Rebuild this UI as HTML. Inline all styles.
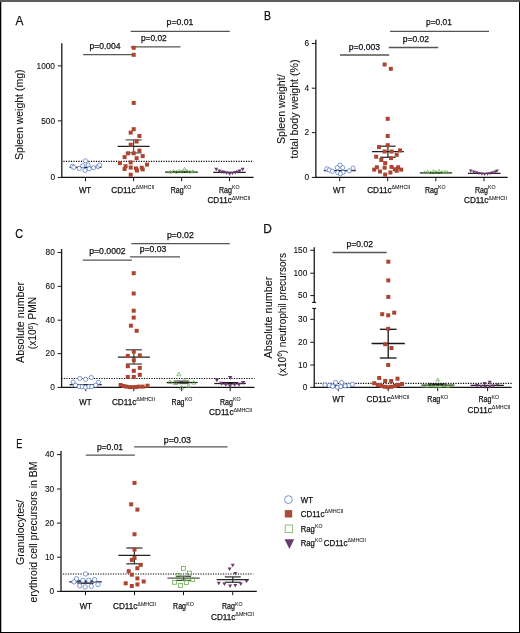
<!DOCTYPE html>
<html><head><meta charset="utf-8"><style>
html,body{margin:0;padding:0;background:#fff;}
body{width:520px;height:633px;overflow:hidden;}
svg{display:block;font-family:"Liberation Sans", sans-serif;will-change:transform;}
text{stroke:#111;stroke-width:0.25px;}
</style></head><body>
<svg width="520" height="633" viewBox="0 0 520 633">
<rect x="0" y="0" width="520" height="633" fill="#fff"/>
<text x="15.6" y="24.6" font-size="13" textLength="7.9" lengthAdjust="spacingAndGlyphs" fill="#111">A</text>
<line x1="61.8" y1="43.2" x2="61.8" y2="178.04999999999998" stroke="#1a1a1a" stroke-width="1.3"/>
<line x1="57.8" y1="65.9" x2="61.8" y2="65.9" stroke="#1a1a1a" stroke-width="1"/>
<text x="55.0" y="68.60000000000001" font-size="8.3" text-anchor="end" fill="#111" style="stroke-width:0.1px">1000</text>
<line x1="57.8" y1="120.85" x2="61.8" y2="120.85" stroke="#1a1a1a" stroke-width="1"/>
<text x="55.0" y="123.55" font-size="8.3" text-anchor="end" fill="#111" style="stroke-width:0.1px">500</text>
<line x1="57.8" y1="177.45" x2="61.8" y2="177.45" stroke="#1a1a1a" stroke-width="1"/>
<text x="55.0" y="180.14999999999998" font-size="8.3" text-anchor="end" fill="#111" style="stroke-width:0.1px">0</text>
<text transform="translate(23.0,114.7) rotate(-90)" x="0" y="0" font-size="10.3" text-anchor="middle" textLength="90.4" lengthAdjust="spacingAndGlyphs" fill="#111" style="stroke-width:0.08px">Spleen weight (mg)</text>
<line x1="61.199999999999996" y1="177.45" x2="253.6" y2="177.45" stroke="#111" stroke-width="1.2"/>
<line x1="85.5" y1="177.45" x2="85.5" y2="181.25" stroke="#1a1a1a" stroke-width="1"/>
<line x1="133.6" y1="177.45" x2="133.6" y2="181.25" stroke="#1a1a1a" stroke-width="1"/>
<line x1="181.6" y1="177.45" x2="181.6" y2="181.25" stroke="#1a1a1a" stroke-width="1"/>
<line x1="229.5" y1="177.45" x2="229.5" y2="181.25" stroke="#1a1a1a" stroke-width="1"/>
<text x="85.05" y="192.7" font-size="8.7" text-anchor="middle" textLength="12.3" lengthAdjust="spacingAndGlyphs" fill="#111">WT</text>
<text x="111.3" y="192.7" font-size="8.7" textLength="24.4" lengthAdjust="spacingAndGlyphs" fill="#111">CD11c</text>
<text x="135.6" y="189.39999999999998" font-size="5.5" textLength="18.8" lengthAdjust="spacingAndGlyphs" fill="#111" style="stroke-width:0.05px">ΔMHCII</text>
<text x="170.7" y="192.7" font-size="8.7" textLength="12.9" lengthAdjust="spacingAndGlyphs" fill="#111">Rag</text>
<text x="183.79999999999998" y="189.39999999999998" font-size="5.7" textLength="7.6" lengthAdjust="spacingAndGlyphs" fill="#111" style="stroke-width:0.05px">KO</text>
<text x="218.9" y="192.7" font-size="8.7" textLength="12.9" lengthAdjust="spacingAndGlyphs" fill="#111">Rag</text>
<text x="232.0" y="189.39999999999998" font-size="5.7" textLength="7.6" lengthAdjust="spacingAndGlyphs" fill="#111" style="stroke-width:0.05px">KO</text>
<text x="207.4" y="203.2" font-size="8.7" textLength="24.4" lengthAdjust="spacingAndGlyphs" fill="#111">CD11c</text>
<text x="231.70000000000002" y="199.89999999999998" font-size="5.5" textLength="18.8" lengthAdjust="spacingAndGlyphs" fill="#111" style="stroke-width:0.05px">ΔMHCII</text>
<line x1="130.8" y1="31.35" x2="229.8" y2="31.35" stroke="#56564f" stroke-width="1.3"/>
<text x="166.6" y="25.0" font-size="8.8" textLength="26.8" lengthAdjust="spacingAndGlyphs" fill="#111">p=0.01</text>
<line x1="130.8" y1="46.8" x2="180.4" y2="46.8" stroke="#56564f" stroke-width="1.3"/>
<text x="140.9" y="41.2" font-size="8.8" textLength="25.8" lengthAdjust="spacingAndGlyphs" fill="#111">p=0.02</text>
<line x1="83.1" y1="54.6" x2="135.0" y2="54.6" stroke="#56564f" stroke-width="1.3"/>
<text x="89.5" y="49.1" font-size="8.8" textLength="31.1" lengthAdjust="spacingAndGlyphs" fill="#111">p=0.004</text>
<line x1="63.4" y1="161.4" x2="253.6" y2="161.4" stroke="#000" stroke-width="1.1" stroke-dasharray="1.2 1.3"/>
<line x1="69.5" y1="167.3" x2="101.5" y2="167.3" stroke="#222" stroke-width="1.25"/>
<circle cx="72.3" cy="166.2" r="2.1" fill="#fff" stroke="#5577c4" stroke-width="0.75"/>
<circle cx="73.8" cy="167.3" r="2.1" fill="#fff" stroke="#5577c4" stroke-width="0.75"/>
<circle cx="79.2" cy="168.5" r="2.1" fill="#fff" stroke="#5577c4" stroke-width="0.75"/>
<circle cx="82.7" cy="165.8" r="2.1" fill="#fff" stroke="#5577c4" stroke-width="0.75"/>
<circle cx="88.1" cy="165" r="2.1" fill="#fff" stroke="#5577c4" stroke-width="0.75"/>
<circle cx="85" cy="170.4" r="2.1" fill="#fff" stroke="#5577c4" stroke-width="0.75"/>
<circle cx="89.2" cy="168.8" r="2.1" fill="#fff" stroke="#5577c4" stroke-width="0.75"/>
<circle cx="93.5" cy="167.7" r="2.1" fill="#fff" stroke="#5577c4" stroke-width="0.75"/>
<circle cx="98.1" cy="166.5" r="2.1" fill="#fff" stroke="#5577c4" stroke-width="0.75"/>
<circle cx="99.6" cy="165" r="2.1" fill="#fff" stroke="#5577c4" stroke-width="0.75"/>
<circle cx="85.4" cy="160.8" r="2.1" fill="#fff" stroke="#5577c4" stroke-width="0.75"/>
<line x1="133.6" y1="139.9" x2="133.6" y2="152.9" stroke="#555" stroke-width="1.25"/>
<line x1="125.6" y1="139.9" x2="141.6" y2="139.9" stroke="#555" stroke-width="1.25"/>
<line x1="125.6" y1="152.9" x2="141.6" y2="152.9" stroke="#555" stroke-width="1.25"/>
<line x1="117.6" y1="146.4" x2="149.6" y2="146.4" stroke="#222" stroke-width="1.25"/>
<rect x="131.70" y="45.80" width="4.0" height="4.0" fill="#ac4430"/>
<rect x="131.70" y="52.80" width="4.0" height="4.0" fill="#ac4430"/>
<rect x="131.70" y="100.90" width="4.0" height="4.0" fill="#ac4430"/>
<rect x="131.70" y="127.20" width="4.0" height="4.0" fill="#ac4430"/>
<rect x="128.70" y="130.60" width="4.0" height="4.0" fill="#ac4430"/>
<rect x="137.40" y="134.00" width="4.0" height="4.0" fill="#ac4430"/>
<rect x="134.60" y="139.50" width="4.0" height="4.0" fill="#ac4430"/>
<rect x="128.70" y="142.70" width="4.0" height="4.0" fill="#ac4430"/>
<rect x="137.40" y="148.60" width="4.0" height="4.0" fill="#ac4430"/>
<rect x="126.10" y="151.30" width="4.0" height="4.0" fill="#ac4430"/>
<rect x="131.70" y="151.30" width="4.0" height="4.0" fill="#ac4430"/>
<rect x="122.60" y="155.10" width="4.0" height="4.0" fill="#ac4430"/>
<rect x="140.70" y="154.10" width="4.0" height="4.0" fill="#ac4430"/>
<rect x="134.60" y="156.20" width="4.0" height="4.0" fill="#ac4430"/>
<rect x="128.70" y="160.40" width="4.0" height="4.0" fill="#ac4430"/>
<rect x="117.90" y="161.10" width="4.0" height="4.0" fill="#ac4430"/>
<rect x="145.00" y="162.60" width="4.0" height="4.0" fill="#ac4430"/>
<rect x="123.60" y="164.20" width="4.0" height="4.0" fill="#ac4430"/>
<rect x="128.70" y="165.50" width="4.0" height="4.0" fill="#ac4430"/>
<rect x="122.60" y="167.00" width="4.0" height="4.0" fill="#ac4430"/>
<rect x="134.00" y="166.40" width="4.0" height="4.0" fill="#ac4430"/>
<rect x="139.70" y="165.70" width="4.0" height="4.0" fill="#ac4430"/>
<rect x="135.00" y="168.50" width="4.0" height="4.0" fill="#ac4430"/>
<rect x="140.70" y="167.40" width="4.0" height="4.0" fill="#ac4430"/>
<rect x="128.70" y="172.70" width="4.0" height="4.0" fill="#ac4430"/>
<line x1="165.0" y1="172.1" x2="197.8" y2="172.1" stroke="#222" stroke-width="1.25"/>
<rect x="173" y="171.3" width="17" height="1.6" fill="#111"/>
<path d="M170.50 170.22L172.15 173.09L168.85 173.09Z" fill="none" stroke="#5fa64a" stroke-width="0.7"/>
<path d="M173.50 169.52L175.15 172.39L171.85 172.39Z" fill="none" stroke="#5fa64a" stroke-width="0.7"/>
<path d="M176.50 170.22L178.15 173.09L174.85 173.09Z" fill="none" stroke="#5fa64a" stroke-width="0.7"/>
<path d="M179.50 169.22L181.15 172.09L177.85 172.09Z" fill="none" stroke="#5fa64a" stroke-width="0.7"/>
<path d="M182.00 169.82L183.65 172.69L180.35 172.69Z" fill="none" stroke="#5fa64a" stroke-width="0.7"/>
<path d="M184.60 167.22L186.25 170.09L182.95 170.09Z" fill="none" stroke="#5fa64a" stroke-width="0.7"/>
<path d="M187.00 169.42L188.65 172.29L185.35 172.29Z" fill="none" stroke="#5fa64a" stroke-width="0.7"/>
<path d="M190.00 170.02L191.65 172.89L188.35 172.89Z" fill="none" stroke="#5fa64a" stroke-width="0.7"/>
<path d="M193.00 169.72L194.65 172.59L191.35 172.59Z" fill="none" stroke="#5fa64a" stroke-width="0.7"/>
<line x1="213.2" y1="172.4" x2="245.7" y2="172.4" stroke="#222" stroke-width="1.25"/>
<path d="M216.20 171.20L218.15 167.81L214.25 167.81Z" fill="#6a3a6c"/>
<path d="M219.30 172.90L221.25 169.51L217.35 169.51Z" fill="#6a3a6c"/>
<path d="M221.90 173.80L223.85 170.41L219.95 170.41Z" fill="#6a3a6c"/>
<path d="M224.00 174.20L225.95 170.81L222.05 170.81Z" fill="#6a3a6c"/>
<path d="M226.60 174.90L228.55 171.51L224.65 171.51Z" fill="#6a3a6c"/>
<path d="M229.70 175.80L231.65 172.41L227.75 172.41Z" fill="#6a3a6c"/>
<path d="M232.50 175.10L234.45 171.71L230.55 171.71Z" fill="#6a3a6c"/>
<path d="M235.30 174.40L237.25 171.01L233.35 171.01Z" fill="#6a3a6c"/>
<path d="M237.40 173.80L239.35 170.41L235.45 170.41Z" fill="#6a3a6c"/>
<path d="M239.60 172.90L241.55 169.51L237.65 169.51Z" fill="#6a3a6c"/>
<path d="M242.60 171.20L244.55 167.81L240.65 167.81Z" fill="#6a3a6c"/>
<text x="264.0" y="20.2" font-size="13" textLength="7.0" lengthAdjust="spacingAndGlyphs" fill="#111">B</text>
<line x1="315.85" y1="39.8" x2="315.85" y2="178.0" stroke="#1a1a1a" stroke-width="1.3"/>
<line x1="311.85" y1="43.5" x2="315.85" y2="43.5" stroke="#1a1a1a" stroke-width="1"/>
<text x="309.05" y="46.2" font-size="8.3" text-anchor="end" fill="#111" style="stroke-width:0.1px">6</text>
<line x1="311.85" y1="88.2" x2="315.85" y2="88.2" stroke="#1a1a1a" stroke-width="1"/>
<text x="309.05" y="90.9" font-size="8.3" text-anchor="end" fill="#111" style="stroke-width:0.1px">4</text>
<line x1="311.85" y1="132.65" x2="315.85" y2="132.65" stroke="#1a1a1a" stroke-width="1"/>
<text x="309.05" y="135.35" font-size="8.3" text-anchor="end" fill="#111" style="stroke-width:0.1px">2</text>
<line x1="311.85" y1="177.4" x2="315.85" y2="177.4" stroke="#1a1a1a" stroke-width="1"/>
<text x="309.05" y="180.1" font-size="8.3" text-anchor="end" fill="#111" style="stroke-width:0.1px">0</text>
<text transform="translate(285.1,109.2) rotate(-90)" x="0" y="0" font-size="10.3" text-anchor="middle" textLength="69.7" lengthAdjust="spacingAndGlyphs" fill="#111" style="stroke-width:0.08px">Spleen weight/</text>
<text transform="translate(297.6,109.0) rotate(-90)" x="0" y="0" font-size="10.3" text-anchor="middle" textLength="98.9" lengthAdjust="spacingAndGlyphs" fill="#111" style="stroke-width:0.08px">total body weight (%)</text>
<line x1="315.29999999999995" y1="177.4" x2="507.7" y2="177.4" stroke="#111" stroke-width="1.2"/>
<line x1="339.7" y1="177.4" x2="339.7" y2="181.20000000000002" stroke="#1a1a1a" stroke-width="1"/>
<line x1="387.7" y1="177.4" x2="387.7" y2="181.20000000000002" stroke="#1a1a1a" stroke-width="1"/>
<line x1="435.8" y1="177.4" x2="435.8" y2="181.20000000000002" stroke="#1a1a1a" stroke-width="1"/>
<line x1="484.0" y1="177.4" x2="484.0" y2="181.20000000000002" stroke="#1a1a1a" stroke-width="1"/>
<text x="339.25" y="192.55" font-size="8.7" text-anchor="middle" textLength="12.3" lengthAdjust="spacingAndGlyphs" fill="#111">WT</text>
<text x="367.2" y="192.55" font-size="8.7" textLength="24.4" lengthAdjust="spacingAndGlyphs" fill="#111">CD11c</text>
<text x="391.5" y="189.25" font-size="5.5" textLength="18.8" lengthAdjust="spacingAndGlyphs" fill="#111" style="stroke-width:0.05px">ΔMHCII</text>
<text x="424.9" y="192.55" font-size="8.7" textLength="12.9" lengthAdjust="spacingAndGlyphs" fill="#111">Rag</text>
<text x="438.0" y="189.25" font-size="5.7" textLength="7.6" lengthAdjust="spacingAndGlyphs" fill="#111" style="stroke-width:0.05px">KO</text>
<text x="474.9" y="192.55" font-size="8.7" textLength="12.9" lengthAdjust="spacingAndGlyphs" fill="#111">Rag</text>
<text x="488.0" y="189.25" font-size="5.7" textLength="7.6" lengthAdjust="spacingAndGlyphs" fill="#111" style="stroke-width:0.05px">KO</text>
<text x="464.0" y="202.9" font-size="8.7" textLength="24.4" lengthAdjust="spacingAndGlyphs" fill="#111">CD11c</text>
<text x="488.3" y="199.6" font-size="5.5" textLength="18.8" lengthAdjust="spacingAndGlyphs" fill="#111" style="stroke-width:0.05px">ΔMHCII</text>
<line x1="390.0" y1="31.35" x2="489.0" y2="31.35" stroke="#56564f" stroke-width="1.3"/>
<text x="426.1" y="24.8" font-size="8.8" textLength="25.8" lengthAdjust="spacingAndGlyphs" fill="#111">p=0.01</text>
<line x1="388.8" y1="47.5" x2="438.2" y2="47.5" stroke="#56564f" stroke-width="1.3"/>
<text x="402.8" y="42.4" font-size="8.8" textLength="26.3" lengthAdjust="spacingAndGlyphs" fill="#111">p=0.02</text>
<line x1="340.0" y1="55.0" x2="389.2" y2="55.0" stroke="#56564f" stroke-width="1.3"/>
<text x="348.8" y="49.7" font-size="8.8" textLength="31.2" lengthAdjust="spacingAndGlyphs" fill="#111">p=0.003</text>
<line x1="323.8" y1="170.7" x2="355.8" y2="170.7" stroke="#222" stroke-width="1.25"/>
<circle cx="326.9" cy="168.8" r="2.1" fill="#fff" stroke="#5577c4" stroke-width="0.75"/>
<circle cx="329.2" cy="170" r="2.1" fill="#fff" stroke="#5577c4" stroke-width="0.75"/>
<circle cx="332.3" cy="171.2" r="2.1" fill="#fff" stroke="#5577c4" stroke-width="0.75"/>
<circle cx="337.3" cy="167.7" r="2.1" fill="#fff" stroke="#5577c4" stroke-width="0.75"/>
<circle cx="342.7" cy="167.7" r="2.1" fill="#fff" stroke="#5577c4" stroke-width="0.75"/>
<circle cx="337.7" cy="172.7" r="2.1" fill="#fff" stroke="#5577c4" stroke-width="0.75"/>
<circle cx="343.1" cy="172.3" r="2.1" fill="#fff" stroke="#5577c4" stroke-width="0.75"/>
<circle cx="340.4" cy="173.8" r="2.1" fill="#fff" stroke="#5577c4" stroke-width="0.75"/>
<circle cx="349.2" cy="170.8" r="2.1" fill="#fff" stroke="#5577c4" stroke-width="0.75"/>
<circle cx="353.1" cy="168.1" r="2.1" fill="#fff" stroke="#5577c4" stroke-width="0.75"/>
<circle cx="340" cy="165" r="2.1" fill="#fff" stroke="#5577c4" stroke-width="0.75"/>
<line x1="387.9" y1="146.2" x2="387.9" y2="157.3" stroke="#2a2a2a" stroke-width="1.25"/>
<line x1="380.2" y1="146.2" x2="395.59999999999997" y2="146.2" stroke="#2a2a2a" stroke-width="1.25"/>
<line x1="380.2" y1="157.3" x2="395.59999999999997" y2="157.3" stroke="#2a2a2a" stroke-width="1.25"/>
<line x1="371.9" y1="151.5" x2="403.9" y2="151.5" stroke="#222" stroke-width="1.25"/>
<line x1="419.8" y1="172.8" x2="452.2" y2="172.8" stroke="#222" stroke-width="1.25"/>
<rect x="430" y="172" width="12" height="1.5" fill="#111"/>
<rect x="382.60" y="62.50" width="4.0" height="4.0" fill="#ac4430"/>
<rect x="388.80" y="66.80" width="4.0" height="4.0" fill="#ac4430"/>
<rect x="385.70" y="116.80" width="4.0" height="4.0" fill="#ac4430"/>
<rect x="385.70" y="134.00" width="4.0" height="4.0" fill="#ac4430"/>
<rect x="385.70" y="143.20" width="4.0" height="4.0" fill="#ac4430"/>
<rect x="377.00" y="145.10" width="4.0" height="4.0" fill="#ac4430"/>
<rect x="382.60" y="149.50" width="4.0" height="4.0" fill="#ac4430"/>
<rect x="389.50" y="149.50" width="4.0" height="4.0" fill="#ac4430"/>
<rect x="398.00" y="148.40" width="4.0" height="4.0" fill="#ac4430"/>
<rect x="394.70" y="152.80" width="4.0" height="4.0" fill="#ac4430"/>
<rect x="374.20" y="154.70" width="4.0" height="4.0" fill="#ac4430"/>
<rect x="389.00" y="156.10" width="4.0" height="4.0" fill="#ac4430"/>
<rect x="379.30" y="158.00" width="4.0" height="4.0" fill="#ac4430"/>
<rect x="383.20" y="161.10" width="4.0" height="4.0" fill="#ac4430"/>
<rect x="374.90" y="165.30" width="4.0" height="4.0" fill="#ac4430"/>
<rect x="382.60" y="165.70" width="4.0" height="4.0" fill="#ac4430"/>
<rect x="389.50" y="164.90" width="4.0" height="4.0" fill="#ac4430"/>
<rect x="396.10" y="165.30" width="4.0" height="4.0" fill="#ac4430"/>
<rect x="372.20" y="167.60" width="4.0" height="4.0" fill="#ac4430"/>
<rect x="378.00" y="169.50" width="4.0" height="4.0" fill="#ac4430"/>
<rect x="392.80" y="167.20" width="4.0" height="4.0" fill="#ac4430"/>
<rect x="399.20" y="167.60" width="4.0" height="4.0" fill="#ac4430"/>
<rect x="388.40" y="170.50" width="4.0" height="4.0" fill="#ac4430"/>
<rect x="394.70" y="168.80" width="4.0" height="4.0" fill="#ac4430"/>
<rect x="383.20" y="172.60" width="4.0" height="4.0" fill="#ac4430"/>
<line x1="468.0" y1="173.4" x2="500.5" y2="173.4" stroke="#222" stroke-width="1.25"/>
<path d="M424.50 170.77L426.10 173.56L422.90 173.56Z" fill="none" stroke="#5fa64a" stroke-width="0.7"/>
<path d="M427.50 170.07L429.10 172.86L425.90 172.86Z" fill="none" stroke="#5fa64a" stroke-width="0.7"/>
<path d="M430.50 170.87L432.10 173.66L428.90 173.66Z" fill="none" stroke="#5fa64a" stroke-width="0.7"/>
<path d="M433.50 169.57L435.10 172.36L431.90 172.36Z" fill="none" stroke="#5fa64a" stroke-width="0.7"/>
<path d="M436.00 170.47L437.60 173.26L434.40 173.26Z" fill="none" stroke="#5fa64a" stroke-width="0.7"/>
<path d="M439.00 169.47L440.60 172.26L437.40 172.26Z" fill="none" stroke="#5fa64a" stroke-width="0.7"/>
<path d="M442.00 170.67L443.60 173.46L440.40 173.46Z" fill="none" stroke="#5fa64a" stroke-width="0.7"/>
<path d="M445.00 170.07L446.60 172.86L443.40 172.86Z" fill="none" stroke="#5fa64a" stroke-width="0.7"/>
<path d="M447.50 170.87L449.10 173.66L445.90 173.66Z" fill="none" stroke="#5fa64a" stroke-width="0.7"/>
<path d="M470.70 172.74L472.50 169.61L468.90 169.61Z" fill="#6a3a6c"/>
<path d="M473.70 173.64L475.50 170.51L471.90 170.51Z" fill="#6a3a6c"/>
<path d="M476.30 174.44L478.10 171.31L474.50 171.31Z" fill="#6a3a6c"/>
<path d="M478.90 175.14L480.70 172.01L477.10 172.01Z" fill="#6a3a6c"/>
<path d="M481.90 175.74L483.70 172.61L480.10 172.61Z" fill="#6a3a6c"/>
<path d="M484.50 176.04L486.30 172.91L482.70 172.91Z" fill="#6a3a6c"/>
<path d="M487.50 175.74L489.30 172.61L485.70 172.61Z" fill="#6a3a6c"/>
<path d="M490.10 175.14L491.90 172.01L488.30 172.01Z" fill="#6a3a6c"/>
<path d="M492.70 174.44L494.50 171.31L490.90 171.31Z" fill="#6a3a6c"/>
<path d="M495.30 173.64L497.10 170.51L493.50 170.51Z" fill="#6a3a6c"/>
<path d="M497.00 172.74L498.80 169.61L495.20 169.61Z" fill="#6a3a6c"/>
<text x="15.2" y="238.2" font-size="13" textLength="7.8" lengthAdjust="spacingAndGlyphs" fill="#111">C</text>
<line x1="61.6" y1="248.9" x2="61.6" y2="388.05" stroke="#1a1a1a" stroke-width="1.3"/>
<line x1="57.6" y1="252.5" x2="61.6" y2="252.5" stroke="#1a1a1a" stroke-width="1"/>
<text x="54.800000000000004" y="255.2" font-size="8.3" text-anchor="end" fill="#111" style="stroke-width:0.1px">80</text>
<line x1="57.6" y1="286.35" x2="61.6" y2="286.35" stroke="#1a1a1a" stroke-width="1"/>
<text x="54.800000000000004" y="289.05" font-size="8.3" text-anchor="end" fill="#111" style="stroke-width:0.1px">60</text>
<line x1="57.6" y1="320.2" x2="61.6" y2="320.2" stroke="#1a1a1a" stroke-width="1"/>
<text x="54.800000000000004" y="322.9" font-size="8.3" text-anchor="end" fill="#111" style="stroke-width:0.1px">40</text>
<line x1="57.6" y1="353.65" x2="61.6" y2="353.65" stroke="#1a1a1a" stroke-width="1"/>
<text x="54.800000000000004" y="356.34999999999997" font-size="8.3" text-anchor="end" fill="#111" style="stroke-width:0.1px">20</text>
<line x1="57.6" y1="387.45" x2="61.6" y2="387.45" stroke="#1a1a1a" stroke-width="1"/>
<text x="54.800000000000004" y="390.15" font-size="8.3" text-anchor="end" fill="#111" style="stroke-width:0.1px">0</text>
<text transform="translate(23.5,322.4) rotate(-90)" x="0" y="0" font-size="10.3" text-anchor="middle" textLength="81" lengthAdjust="spacingAndGlyphs" fill="#111" style="stroke-width:0.08px">Absolute number</text>
<text transform="translate(36.1,323.1) rotate(-90)" x="0" y="0" font-size="10.3" text-anchor="middle" textLength="52.2" lengthAdjust="spacingAndGlyphs" fill="#111" style="stroke-width:0.08px">(x10<tspan font-size="6.5" dy="-3.5">6</tspan><tspan dy="3.5">) PMN</tspan></text>
<line x1="61.0" y1="387.45" x2="254.5" y2="387.45" stroke="#111" stroke-width="1.2"/>
<line x1="85.8" y1="387.45" x2="85.8" y2="391.25" stroke="#1a1a1a" stroke-width="1"/>
<line x1="133.8" y1="387.45" x2="133.8" y2="391.25" stroke="#1a1a1a" stroke-width="1"/>
<line x1="181.6" y1="387.45" x2="181.6" y2="391.25" stroke="#1a1a1a" stroke-width="1"/>
<line x1="230.2" y1="387.45" x2="230.2" y2="391.25" stroke="#1a1a1a" stroke-width="1"/>
<text x="85.45" y="404.5" font-size="8.7" text-anchor="middle" textLength="12.3" lengthAdjust="spacingAndGlyphs" fill="#111">WT</text>
<text x="111.9" y="404.5" font-size="8.7" textLength="24.4" lengthAdjust="spacingAndGlyphs" fill="#111">CD11c</text>
<text x="136.20000000000002" y="401.2" font-size="5.5" textLength="18.8" lengthAdjust="spacingAndGlyphs" fill="#111" style="stroke-width:0.05px">ΔMHCII</text>
<text x="171.6" y="404.5" font-size="8.7" textLength="12.9" lengthAdjust="spacingAndGlyphs" fill="#111">Rag</text>
<text x="184.7" y="401.2" font-size="5.7" textLength="7.6" lengthAdjust="spacingAndGlyphs" fill="#111" style="stroke-width:0.05px">KO</text>
<text x="220.0" y="404.5" font-size="8.7" textLength="12.9" lengthAdjust="spacingAndGlyphs" fill="#111">Rag</text>
<text x="233.1" y="401.2" font-size="5.7" textLength="7.6" lengthAdjust="spacingAndGlyphs" fill="#111" style="stroke-width:0.05px">KO</text>
<text x="209.1" y="414.9" font-size="8.7" textLength="24.4" lengthAdjust="spacingAndGlyphs" fill="#111">CD11c</text>
<text x="233.4" y="411.59999999999997" font-size="5.5" textLength="18.8" lengthAdjust="spacingAndGlyphs" fill="#111" style="stroke-width:0.05px">ΔMHCII</text>
<line x1="131.3" y1="243.6" x2="229.7" y2="243.6" stroke="#56564f" stroke-width="1.3"/>
<text x="166.9" y="237.6" font-size="8.8" textLength="26.9" lengthAdjust="spacingAndGlyphs" fill="#111">p=0.02</text>
<line x1="130.1" y1="256.8" x2="180.0" y2="256.8" stroke="#56564f" stroke-width="1.3"/>
<text x="139.8" y="252.4" font-size="8.8" textLength="26.5" lengthAdjust="spacingAndGlyphs" fill="#111">p=0.03</text>
<line x1="82.8" y1="260.1" x2="132.0" y2="260.1" stroke="#56564f" stroke-width="1.3"/>
<text x="89.2" y="254.2" font-size="8.8" textLength="36.5" lengthAdjust="spacingAndGlyphs" fill="#111">p=0.0002</text>
<line x1="61.4" y1="378.5" x2="254.5" y2="378.5" stroke="#000" stroke-width="1.1" stroke-dasharray="1.2 1.3"/>
<line x1="69.7" y1="384.5" x2="101.7" y2="384.5" stroke="#222" stroke-width="1.25"/>
<circle cx="79.8" cy="378.5" r="2.1" fill="#fff" stroke="#5577c4" stroke-width="0.75"/>
<circle cx="85.6" cy="379.4" r="2.1" fill="#fff" stroke="#5577c4" stroke-width="0.75"/>
<circle cx="91.3" cy="377.5" r="2.1" fill="#fff" stroke="#5577c4" stroke-width="0.75"/>
<circle cx="73.1" cy="382.1" r="2.1" fill="#fff" stroke="#5577c4" stroke-width="0.75"/>
<circle cx="98.5" cy="382.3" r="2.1" fill="#fff" stroke="#5577c4" stroke-width="0.75"/>
<circle cx="75.5" cy="385.2" r="2.1" fill="#fff" stroke="#5577c4" stroke-width="0.75"/>
<circle cx="79.3" cy="386.6" r="2.1" fill="#fff" stroke="#5577c4" stroke-width="0.75"/>
<circle cx="82.2" cy="386.6" r="2.1" fill="#fff" stroke="#5577c4" stroke-width="0.75"/>
<circle cx="85.6" cy="387.3" r="2.1" fill="#fff" stroke="#5577c4" stroke-width="0.75"/>
<circle cx="88.9" cy="386.6" r="2.1" fill="#fff" stroke="#5577c4" stroke-width="0.75"/>
<circle cx="91.8" cy="386.6" r="2.1" fill="#fff" stroke="#5577c4" stroke-width="0.75"/>
<circle cx="95.7" cy="385.2" r="2.1" fill="#fff" stroke="#5577c4" stroke-width="0.75"/>
<line x1="133.9" y1="349.8" x2="133.9" y2="364.0" stroke="#444" stroke-width="1.25"/>
<line x1="125.9" y1="349.8" x2="141.9" y2="349.8" stroke="#444" stroke-width="1.25"/>
<line x1="125.9" y1="364.0" x2="141.9" y2="364.0" stroke="#444" stroke-width="1.25"/>
<line x1="117.9" y1="357.1" x2="149.9" y2="357.1" stroke="#222" stroke-width="1.25"/>
<rect x="131.70" y="271.20" width="4.0" height="4.0" fill="#ac4430"/>
<rect x="131.70" y="291.50" width="4.0" height="4.0" fill="#ac4430"/>
<rect x="131.70" y="308.70" width="4.0" height="4.0" fill="#ac4430"/>
<rect x="131.70" y="315.60" width="4.0" height="4.0" fill="#ac4430"/>
<rect x="128.90" y="323.70" width="4.0" height="4.0" fill="#ac4430"/>
<rect x="134.70" y="328.80" width="4.0" height="4.0" fill="#ac4430"/>
<rect x="131.80" y="349.70" width="4.0" height="4.0" fill="#ac4430"/>
<rect x="125.80" y="353.90" width="4.0" height="4.0" fill="#ac4430"/>
<rect x="137.80" y="353.40" width="4.0" height="4.0" fill="#ac4430"/>
<rect x="131.80" y="358.20" width="4.0" height="4.0" fill="#ac4430"/>
<rect x="125.80" y="364.20" width="4.0" height="4.0" fill="#ac4430"/>
<rect x="137.80" y="365.90" width="4.0" height="4.0" fill="#ac4430"/>
<rect x="131.80" y="368.80" width="4.0" height="4.0" fill="#ac4430"/>
<rect x="137.80" y="372.80" width="4.0" height="4.0" fill="#ac4430"/>
<rect x="125.80" y="375.00" width="4.0" height="4.0" fill="#ac4430"/>
<rect x="131.80" y="375.00" width="4.0" height="4.0" fill="#ac4430"/>
<rect x="118.60" y="383.00" width="4.0" height="4.0" fill="#ac4430"/>
<rect x="121.50" y="384.00" width="4.0" height="4.0" fill="#ac4430"/>
<rect x="124.30" y="384.60" width="4.0" height="4.0" fill="#ac4430"/>
<rect x="127.70" y="385.10" width="4.0" height="4.0" fill="#ac4430"/>
<rect x="131.10" y="385.10" width="4.0" height="4.0" fill="#ac4430"/>
<rect x="134.00" y="385.10" width="4.0" height="4.0" fill="#ac4430"/>
<rect x="136.80" y="384.60" width="4.0" height="4.0" fill="#ac4430"/>
<rect x="140.70" y="384.60" width="4.0" height="4.0" fill="#ac4430"/>
<rect x="145.50" y="383.70" width="4.0" height="4.0" fill="#ac4430"/>
<rect x="173.7" y="380.2" width="15.5" height="4" fill="#8a8a8a"/>
<rect x="180" y="381.6" width="7.5" height="1.8" fill="#111"/>
<line x1="166.6" y1="382.5" x2="197.6" y2="382.5" stroke="#222" stroke-width="1.25"/>
<path d="M178.80 372.13L180.90 375.79L176.70 375.79Z" fill="none" stroke="#5fa64a" stroke-width="0.7"/>
<path d="M170.00 379.83L172.10 383.49L167.90 383.49Z" fill="none" stroke="#5fa64a" stroke-width="0.7"/>
<path d="M175.40 380.83L177.50 384.49L173.30 384.49Z" fill="none" stroke="#5fa64a" stroke-width="0.7"/>
<path d="M185.00 377.93L187.10 381.59L182.90 381.59Z" fill="none" stroke="#5fa64a" stroke-width="0.7"/>
<path d="M193.70 380.43L195.80 384.09L191.60 384.09Z" fill="none" stroke="#5fa64a" stroke-width="0.7"/>
<path d="M181.50 385.63L183.60 389.29L179.40 389.29Z" fill="none" stroke="#5fa64a" stroke-width="0.7"/>
<path d="M188.50 383.73L190.60 387.39L186.40 387.39Z" fill="none" stroke="#5fa64a" stroke-width="0.7"/>
<rect x="221.5" y="382" width="16.5" height="2.3" fill="#111"/>
<line x1="214.2" y1="383.5" x2="245.8" y2="383.5" stroke="#222" stroke-width="1.25"/>
<path d="M216.90 382.13L219.15 378.21L214.65 378.21Z" fill="#6a3a6c"/>
<path d="M221.40 385.63L223.65 381.71L219.15 381.71Z" fill="#6a3a6c"/>
<path d="M225.80 386.73L228.05 382.81L223.55 382.81Z" fill="#6a3a6c"/>
<path d="M230.00 388.23L232.25 384.31L227.75 384.31Z" fill="#6a3a6c"/>
<path d="M230.20 379.83L232.45 375.91L227.95 375.91Z" fill="#6a3a6c"/>
<path d="M234.60 386.73L236.85 382.81L232.35 382.81Z" fill="#6a3a6c"/>
<path d="M239.10 386.73L241.35 382.81L236.85 382.81Z" fill="#6a3a6c"/>
<path d="M243.20 384.83L245.45 380.91L240.95 380.91Z" fill="#6a3a6c"/>
<text x="263.2" y="232.6" font-size="13" textLength="8.6" lengthAdjust="spacingAndGlyphs" fill="#111">D</text>
<line x1="314.25" y1="247.3" x2="314.25" y2="302.6" stroke="#1a1a1a" stroke-width="1.3"/>
<line x1="314.25" y1="308.2" x2="314.25" y2="387.9" stroke="#1a1a1a" stroke-width="1.3"/>
<line x1="312.1" y1="302.4" x2="316.1" y2="302.4" stroke="#1a1a1a" stroke-width="1.1"/>
<line x1="312.3" y1="308.4" x2="316.1" y2="308.4" stroke="#1a1a1a" stroke-width="1.1"/>
<line x1="310.25" y1="250.3" x2="314.25" y2="250.3" stroke="#1a1a1a" stroke-width="1"/>
<text x="307.35" y="253.0" font-size="8.3" text-anchor="end" fill="#111" style="stroke-width:0.1px">150</text>
<line x1="310.25" y1="273.2" x2="314.25" y2="273.2" stroke="#1a1a1a" stroke-width="1"/>
<text x="307.35" y="275.9" font-size="8.3" text-anchor="end" fill="#111" style="stroke-width:0.1px">100</text>
<line x1="310.25" y1="295.6" x2="314.25" y2="295.6" stroke="#1a1a1a" stroke-width="1"/>
<text x="307.35" y="298.3" font-size="8.3" text-anchor="end" fill="#111" style="stroke-width:0.1px">50</text>
<line x1="310.25" y1="319.3" x2="314.25" y2="319.3" stroke="#1a1a1a" stroke-width="1"/>
<text x="307.35" y="322.0" font-size="8.3" text-anchor="end" fill="#111" style="stroke-width:0.1px">30</text>
<line x1="310.25" y1="342.3" x2="314.25" y2="342.3" stroke="#1a1a1a" stroke-width="1"/>
<text x="307.35" y="345.0" font-size="8.3" text-anchor="end" fill="#111" style="stroke-width:0.1px">20</text>
<line x1="310.25" y1="365.0" x2="314.25" y2="365.0" stroke="#1a1a1a" stroke-width="1"/>
<text x="307.35" y="367.7" font-size="8.3" text-anchor="end" fill="#111" style="stroke-width:0.1px">10</text>
<line x1="310.25" y1="387.4" x2="314.25" y2="387.4" stroke="#1a1a1a" stroke-width="1"/>
<text x="307.35" y="390.09999999999997" font-size="8.3" text-anchor="end" fill="#111" style="stroke-width:0.1px">0</text>
<text transform="translate(272.0,317.6) rotate(-90)" x="0" y="0" font-size="10.3" text-anchor="middle" textLength="81.8" lengthAdjust="spacingAndGlyphs" fill="#111" style="stroke-width:0.08px">Absolute number</text>
<text transform="translate(285.6,314.7) rotate(-90)" x="0" y="0" font-size="10.3" text-anchor="middle" textLength="123.3" lengthAdjust="spacingAndGlyphs" fill="#111" style="stroke-width:0.08px">(x10<tspan font-size="6.5" dy="-3.5">6</tspan><tspan dy="3.5">) neutrophil precursors</tspan></text>
<line x1="313.65" y1="387.4" x2="511.6" y2="387.4" stroke="#111" stroke-width="1.2"/>
<line x1="338.4" y1="387.4" x2="338.4" y2="391.2" stroke="#1a1a1a" stroke-width="1"/>
<line x1="388.2" y1="387.4" x2="388.2" y2="391.2" stroke="#1a1a1a" stroke-width="1"/>
<line x1="437.7" y1="387.4" x2="437.7" y2="391.2" stroke="#1a1a1a" stroke-width="1"/>
<line x1="487.6" y1="387.4" x2="487.6" y2="391.2" stroke="#1a1a1a" stroke-width="1"/>
<text x="338.55" y="401.9" font-size="8.7" text-anchor="middle" textLength="12.3" lengthAdjust="spacingAndGlyphs" fill="#111">WT</text>
<text x="366.5" y="401.9" font-size="8.7" textLength="24.4" lengthAdjust="spacingAndGlyphs" fill="#111">CD11c</text>
<text x="390.8" y="398.59999999999997" font-size="5.5" textLength="18.8" lengthAdjust="spacingAndGlyphs" fill="#111" style="stroke-width:0.05px">ΔMHCII</text>
<text x="427.3" y="401.9" font-size="8.7" textLength="12.9" lengthAdjust="spacingAndGlyphs" fill="#111">Rag</text>
<text x="440.40000000000003" y="398.59999999999997" font-size="5.7" textLength="7.6" lengthAdjust="spacingAndGlyphs" fill="#111" style="stroke-width:0.05px">KO</text>
<text x="478.4" y="401.9" font-size="8.7" textLength="12.9" lengthAdjust="spacingAndGlyphs" fill="#111">Rag</text>
<text x="491.5" y="398.59999999999997" font-size="5.7" textLength="7.6" lengthAdjust="spacingAndGlyphs" fill="#111" style="stroke-width:0.05px">KO</text>
<text x="467.5" y="412.6" font-size="8.7" textLength="24.4" lengthAdjust="spacingAndGlyphs" fill="#111">CD11c</text>
<text x="491.8" y="409.3" font-size="5.5" textLength="18.8" lengthAdjust="spacingAndGlyphs" fill="#111" style="stroke-width:0.05px">ΔMHCII</text>
<line x1="332.5" y1="252.5" x2="386.7" y2="252.5" stroke="#56564f" stroke-width="1.3"/>
<text x="346.5" y="246.5" font-size="8.8" textLength="26.4" lengthAdjust="spacingAndGlyphs" fill="#111">p=0.02</text>
<line x1="315.4" y1="383.4" x2="512.2" y2="383.4" stroke="#000" stroke-width="1.1" stroke-dasharray="1.2 1.3"/>
<line x1="323.0" y1="385.6" x2="354.0" y2="385.6" stroke="#222" stroke-width="1.25"/>
<circle cx="325" cy="384.9" r="2.1" fill="#fff" stroke="#5577c4" stroke-width="0.75"/>
<circle cx="329.3" cy="385.4" r="2.1" fill="#fff" stroke="#5577c4" stroke-width="0.75"/>
<circle cx="332.7" cy="386.3" r="2.1" fill="#fff" stroke="#5577c4" stroke-width="0.75"/>
<circle cx="335.6" cy="382.5" r="2.1" fill="#fff" stroke="#5577c4" stroke-width="0.75"/>
<circle cx="337.5" cy="387.3" r="2.1" fill="#fff" stroke="#5577c4" stroke-width="0.75"/>
<circle cx="340.8" cy="386.5" r="2.1" fill="#fff" stroke="#5577c4" stroke-width="0.75"/>
<circle cx="341.8" cy="382.5" r="2.1" fill="#fff" stroke="#5577c4" stroke-width="0.75"/>
<circle cx="345.2" cy="385.9" r="2.1" fill="#fff" stroke="#5577c4" stroke-width="0.75"/>
<circle cx="349" cy="385.4" r="2.1" fill="#fff" stroke="#5577c4" stroke-width="0.75"/>
<circle cx="352.4" cy="384.4" r="2.1" fill="#fff" stroke="#5577c4" stroke-width="0.75"/>
<line x1="388.2" y1="329.3" x2="388.2" y2="358.0" stroke="#151515" stroke-width="1.3"/>
<line x1="379.8" y1="329.3" x2="396.59999999999997" y2="329.3" stroke="#151515" stroke-width="1.3"/>
<line x1="379.8" y1="358.0" x2="396.59999999999997" y2="358.0" stroke="#151515" stroke-width="1.3"/>
<line x1="371.59999999999997" y1="343.5" x2="404.8" y2="343.5" stroke="#151515" stroke-width="1.3"/>
<rect x="386.30" y="259.70" width="4.0" height="4.0" fill="#ac4430"/>
<rect x="386.30" y="278.40" width="4.0" height="4.0" fill="#ac4430"/>
<rect x="386.30" y="294.90" width="4.0" height="4.0" fill="#ac4430"/>
<rect x="380.20" y="312.20" width="4.0" height="4.0" fill="#ac4430"/>
<rect x="386.20" y="313.30" width="4.0" height="4.0" fill="#ac4430"/>
<rect x="392.20" y="310.70" width="4.0" height="4.0" fill="#ac4430"/>
<rect x="386.20" y="326.80" width="4.0" height="4.0" fill="#ac4430"/>
<rect x="383.20" y="342.20" width="4.0" height="4.0" fill="#ac4430"/>
<rect x="389.50" y="346.00" width="4.0" height="4.0" fill="#ac4430"/>
<rect x="386.20" y="363.00" width="4.0" height="4.0" fill="#ac4430"/>
<rect x="377.20" y="376.00" width="4.0" height="4.0" fill="#ac4430"/>
<rect x="383.20" y="379.00" width="4.0" height="4.0" fill="#ac4430"/>
<rect x="389.20" y="379.00" width="4.0" height="4.0" fill="#ac4430"/>
<rect x="395.50" y="376.70" width="4.0" height="4.0" fill="#ac4430"/>
<rect x="372.20" y="381.20" width="4.0" height="4.0" fill="#ac4430"/>
<rect x="375.80" y="383.00" width="4.0" height="4.0" fill="#ac4430"/>
<rect x="379.50" y="384.00" width="4.0" height="4.0" fill="#ac4430"/>
<rect x="383.00" y="384.80" width="4.0" height="4.0" fill="#ac4430"/>
<rect x="386.20" y="385.20" width="4.0" height="4.0" fill="#ac4430"/>
<rect x="389.50" y="384.80" width="4.0" height="4.0" fill="#ac4430"/>
<rect x="393.00" y="384.00" width="4.0" height="4.0" fill="#ac4430"/>
<rect x="396.50" y="383.00" width="4.0" height="4.0" fill="#ac4430"/>
<rect x="400.00" y="382.00" width="4.0" height="4.0" fill="#ac4430"/>
<rect x="428.8" y="383.4" width="17" height="1.8" fill="#111"/>
<line x1="421.5" y1="385.0" x2="454.29999999999995" y2="385.0" stroke="#222" stroke-width="1.25"/>
<path d="M437.80 377.96L439.60 381.09L436.00 381.09Z" fill="none" stroke="#5fa64a" stroke-width="0.7"/>
<path d="M423.00 383.86L424.80 386.99L421.20 386.99Z" fill="none" stroke="#5fa64a" stroke-width="0.7"/>
<path d="M427.00 384.46L428.80 387.59L425.20 387.59Z" fill="none" stroke="#5fa64a" stroke-width="0.7"/>
<path d="M431.50 383.86L433.30 386.99L429.70 386.99Z" fill="none" stroke="#5fa64a" stroke-width="0.7"/>
<path d="M435.50 384.66L437.30 387.79L433.70 387.79Z" fill="none" stroke="#5fa64a" stroke-width="0.7"/>
<path d="M440.00 384.46L441.80 387.59L438.20 387.59Z" fill="none" stroke="#5fa64a" stroke-width="0.7"/>
<path d="M444.00 383.86L445.80 386.99L442.20 386.99Z" fill="none" stroke="#5fa64a" stroke-width="0.7"/>
<path d="M448.00 384.46L449.80 387.59L446.20 387.59Z" fill="none" stroke="#5fa64a" stroke-width="0.7"/>
<path d="M451.20 383.56L453.00 386.69L449.40 386.69Z" fill="none" stroke="#5fa64a" stroke-width="0.7"/>
<line x1="470.6" y1="385.4" x2="503.9" y2="385.4" stroke="#222" stroke-width="1.25"/>
<path d="M477.10 387.56L479.10 384.08L475.10 384.08Z" fill="#6a3a6c"/>
<path d="M481.00 388.46L483.00 384.98L479.00 384.98Z" fill="#6a3a6c"/>
<path d="M484.50 385.46L486.50 381.98L482.50 381.98Z" fill="#6a3a6c"/>
<path d="M485.30 388.86L487.30 385.38L483.30 385.38Z" fill="#6a3a6c"/>
<path d="M489.70 384.16L491.70 380.68L487.70 380.68Z" fill="#6a3a6c"/>
<path d="M489.70 388.46L491.70 384.98L487.70 384.98Z" fill="#6a3a6c"/>
<path d="M493.10 387.96L495.10 384.48L491.10 384.48Z" fill="#6a3a6c"/>
<path d="M497.50 386.76L499.50 383.28L495.50 383.28Z" fill="#6a3a6c"/>
<text x="16.2" y="448.1" font-size="13" textLength="6.0" lengthAdjust="spacingAndGlyphs" fill="#111">E</text>
<line x1="61.0" y1="451.0" x2="61.0" y2="592.0" stroke="#1a1a1a" stroke-width="1.3"/>
<line x1="57.0" y1="454.6" x2="61.0" y2="454.6" stroke="#1a1a1a" stroke-width="1"/>
<text x="54.2" y="457.3" font-size="8.3" text-anchor="end" fill="#111" style="stroke-width:0.1px">40</text>
<line x1="57.0" y1="489.0" x2="61.0" y2="489.0" stroke="#1a1a1a" stroke-width="1"/>
<text x="54.2" y="491.7" font-size="8.3" text-anchor="end" fill="#111" style="stroke-width:0.1px">30</text>
<line x1="57.0" y1="523.1" x2="61.0" y2="523.1" stroke="#1a1a1a" stroke-width="1"/>
<text x="54.2" y="525.8000000000001" font-size="8.3" text-anchor="end" fill="#111" style="stroke-width:0.1px">20</text>
<line x1="57.0" y1="557.2" x2="61.0" y2="557.2" stroke="#1a1a1a" stroke-width="1"/>
<text x="54.2" y="559.9000000000001" font-size="8.3" text-anchor="end" fill="#111" style="stroke-width:0.1px">10</text>
<line x1="57.0" y1="591.4" x2="61.0" y2="591.4" stroke="#1a1a1a" stroke-width="1"/>
<text x="54.2" y="594.1" font-size="8.3" text-anchor="end" fill="#111" style="stroke-width:0.1px">0</text>
<text transform="translate(23.8,532.4) rotate(-90)" x="0" y="0" font-size="10.3" text-anchor="middle" textLength="65.3" lengthAdjust="spacingAndGlyphs" fill="#111" style="stroke-width:0.08px">Granulocytes/</text>
<text transform="translate(36.9,532.1) rotate(-90)" x="0" y="0" font-size="10.3" text-anchor="middle" textLength="141" lengthAdjust="spacingAndGlyphs" fill="#111" style="stroke-width:0.08px">erythroid cell precursors in BM</text>
<line x1="60.4" y1="591.4" x2="256.8" y2="591.4" stroke="#111" stroke-width="1.2"/>
<line x1="85.5" y1="591.4" x2="85.5" y2="595.1999999999999" stroke="#1a1a1a" stroke-width="1"/>
<line x1="134.5" y1="591.4" x2="134.5" y2="595.1999999999999" stroke="#1a1a1a" stroke-width="1"/>
<line x1="183.5" y1="591.4" x2="183.5" y2="595.1999999999999" stroke="#1a1a1a" stroke-width="1"/>
<line x1="232.7" y1="591.4" x2="232.7" y2="595.1999999999999" stroke="#1a1a1a" stroke-width="1"/>
<text x="85.8" y="608.8" font-size="8.7" text-anchor="middle" textLength="12.3" lengthAdjust="spacingAndGlyphs" fill="#111">WT</text>
<text x="113.0" y="608.8" font-size="8.7" textLength="24.4" lengthAdjust="spacingAndGlyphs" fill="#111">CD11c</text>
<text x="137.3" y="605.5" font-size="5.5" textLength="18.8" lengthAdjust="spacingAndGlyphs" fill="#111" style="stroke-width:0.05px">ΔMHCII</text>
<text x="173.1" y="608.8" font-size="8.7" textLength="12.9" lengthAdjust="spacingAndGlyphs" fill="#111">Rag</text>
<text x="186.2" y="605.5" font-size="5.7" textLength="7.6" lengthAdjust="spacingAndGlyphs" fill="#111" style="stroke-width:0.05px">KO</text>
<text x="221.9" y="608.8" font-size="8.7" textLength="12.9" lengthAdjust="spacingAndGlyphs" fill="#111">Rag</text>
<text x="235.0" y="605.5" font-size="5.7" textLength="7.6" lengthAdjust="spacingAndGlyphs" fill="#111" style="stroke-width:0.05px">KO</text>
<text x="211.0" y="619.6" font-size="8.7" textLength="24.4" lengthAdjust="spacingAndGlyphs" fill="#111">CD11c</text>
<text x="235.3" y="616.3000000000001" font-size="5.5" textLength="18.8" lengthAdjust="spacingAndGlyphs" fill="#111" style="stroke-width:0.05px">ΔMHCII</text>
<line x1="134.2" y1="446.95" x2="227.5" y2="446.95" stroke="#56564f" stroke-width="1.3"/>
<text x="163.8" y="443.3" font-size="8.8" textLength="27.2" lengthAdjust="spacingAndGlyphs" fill="#111">p=0.03</text>
<line x1="85.8" y1="455.15" x2="134.9" y2="455.15" stroke="#56564f" stroke-width="1.3"/>
<text x="96.9" y="449.6" font-size="8.8" textLength="26.2" lengthAdjust="spacingAndGlyphs" fill="#111">p=0.01</text>
<line x1="62.9" y1="574.0" x2="253.3" y2="574.0" stroke="#000" stroke-width="1.1" stroke-dasharray="1.2 1.3"/>
<line x1="85.5" y1="580.7" x2="85.5" y2="583.3" stroke="#333" stroke-width="1.25"/>
<line x1="77.5" y1="580.7" x2="93.5" y2="580.7" stroke="#333" stroke-width="1.25"/>
<line x1="77.5" y1="583.3" x2="93.5" y2="583.3" stroke="#333" stroke-width="1.25"/>
<line x1="69.2" y1="581.9" x2="101.8" y2="581.9" stroke="#222" stroke-width="1.25"/>
<circle cx="85.5" cy="573.9" r="2.2" fill="#fff" stroke="#5577c4" stroke-width="0.75"/>
<circle cx="76.5" cy="578.8" r="2.2" fill="#fff" stroke="#5577c4" stroke-width="0.75"/>
<circle cx="74" cy="581.9" r="2.2" fill="#fff" stroke="#5577c4" stroke-width="0.75"/>
<circle cx="82.9" cy="580.4" r="2.2" fill="#fff" stroke="#5577c4" stroke-width="0.75"/>
<circle cx="88.7" cy="580.2" r="2.2" fill="#fff" stroke="#5577c4" stroke-width="0.75"/>
<circle cx="94.6" cy="579.7" r="2.2" fill="#fff" stroke="#5577c4" stroke-width="0.75"/>
<circle cx="98" cy="584.5" r="2.2" fill="#fff" stroke="#5577c4" stroke-width="0.75"/>
<circle cx="79.7" cy="585.8" r="2.2" fill="#fff" stroke="#5577c4" stroke-width="0.75"/>
<circle cx="85.2" cy="586.9" r="2.2" fill="#fff" stroke="#5577c4" stroke-width="0.75"/>
<circle cx="91.3" cy="586.2" r="2.2" fill="#fff" stroke="#5577c4" stroke-width="0.75"/>
<line x1="134.4" y1="548.0" x2="134.4" y2="563.8" stroke="#333" stroke-width="1.25"/>
<line x1="126.30000000000001" y1="548.0" x2="142.5" y2="548.0" stroke="#333" stroke-width="1.25"/>
<line x1="126.30000000000001" y1="563.8" x2="142.5" y2="563.8" stroke="#333" stroke-width="1.25"/>
<line x1="118.4" y1="555.4" x2="150.4" y2="555.4" stroke="#222" stroke-width="1.25"/>
<rect x="132.50" y="480.90" width="4.0" height="4.0" fill="#ac4430"/>
<rect x="129.20" y="502.30" width="4.0" height="4.0" fill="#ac4430"/>
<rect x="135.40" y="507.60" width="4.0" height="4.0" fill="#ac4430"/>
<rect x="132.50" y="532.30" width="4.0" height="4.0" fill="#ac4430"/>
<rect x="132.50" y="547.50" width="4.0" height="4.0" fill="#ac4430"/>
<rect x="129.80" y="557.90" width="4.0" height="4.0" fill="#ac4430"/>
<rect x="132.50" y="555.90" width="4.0" height="4.0" fill="#ac4430"/>
<rect x="138.70" y="562.90" width="4.0" height="4.0" fill="#ac4430"/>
<rect x="135.40" y="566.20" width="4.0" height="4.0" fill="#ac4430"/>
<rect x="126.70" y="569.20" width="4.0" height="4.0" fill="#ac4430"/>
<rect x="129.80" y="572.70" width="4.0" height="4.0" fill="#ac4430"/>
<rect x="135.40" y="576.40" width="4.0" height="4.0" fill="#ac4430"/>
<rect x="141.70" y="579.50" width="4.0" height="4.0" fill="#ac4430"/>
<rect x="123.70" y="581.30" width="4.0" height="4.0" fill="#ac4430"/>
<rect x="129.80" y="584.00" width="4.0" height="4.0" fill="#ac4430"/>
<rect x="135.40" y="582.40" width="4.0" height="4.0" fill="#ac4430"/>
<line x1="183.55" y1="576.3" x2="183.55" y2="580.4" stroke="#444" stroke-width="1.3"/>
<line x1="176.05" y1="576.3" x2="191.05" y2="576.3" stroke="#444" stroke-width="1.3"/>
<line x1="176.05" y1="580.4" x2="191.05" y2="580.4" stroke="#444" stroke-width="1.3"/>
<line x1="167.4" y1="578.1" x2="199.70000000000002" y2="578.1" stroke="#555" stroke-width="1.3"/>
<rect x="181.45" y="566.55" width="3.9" height="3.9" fill="none" stroke="#5fab45" stroke-width="0.75"/>
<rect x="176.05" y="573.45" width="3.9" height="3.9" fill="none" stroke="#5fab45" stroke-width="0.75"/>
<rect x="187.55" y="571.15" width="3.9" height="3.9" fill="none" stroke="#5fab45" stroke-width="0.75"/>
<rect x="172.55" y="580.35" width="3.9" height="3.9" fill="none" stroke="#5fab45" stroke-width="0.75"/>
<rect x="178.55" y="583.45" width="3.9" height="3.9" fill="none" stroke="#5fab45" stroke-width="0.75"/>
<rect x="184.55" y="580.55" width="3.9" height="3.9" fill="none" stroke="#5fab45" stroke-width="0.75"/>
<rect x="190.85" y="577.65" width="3.9" height="3.9" fill="none" stroke="#5fab45" stroke-width="0.75"/>
<rect x="181.55" y="576.15" width="3.9" height="3.9" fill="none" stroke="#5fab45" stroke-width="0.75"/>
<line x1="232.75" y1="576.9" x2="232.75" y2="582.3" stroke="#333" stroke-width="1.25"/>
<line x1="224.75" y1="576.9" x2="240.75" y2="576.9" stroke="#333" stroke-width="1.25"/>
<line x1="224.75" y1="582.3" x2="240.75" y2="582.3" stroke="#333" stroke-width="1.25"/>
<line x1="216.6" y1="579.6" x2="248.9" y2="579.6" stroke="#222" stroke-width="1.25"/>
<path d="M232.70 567.16L234.70 563.68L230.70 563.68Z" fill="#6a3a6c"/>
<path d="M229.60 570.96L231.60 567.48L227.60 567.48Z" fill="#6a3a6c"/>
<path d="M235.30 575.36L237.30 571.88L233.30 571.88Z" fill="#6a3a6c"/>
<path d="M218.80 585.16L220.80 581.68L216.80 581.68Z" fill="#6a3a6c"/>
<path d="M224.40 586.06L226.40 582.58L222.40 582.58Z" fill="#6a3a6c"/>
<path d="M230.10 587.96L232.10 584.48L228.10 584.48Z" fill="#6a3a6c"/>
<path d="M235.30 587.46L237.30 583.98L233.30 583.98Z" fill="#6a3a6c"/>
<path d="M240.80 586.06L242.80 582.58L238.80 582.58Z" fill="#6a3a6c"/>
<path d="M246.50 583.16L248.50 579.68L244.50 579.68Z" fill="#6a3a6c"/>
<circle cx="288.4" cy="499.6" r="3.9" fill="none" stroke="#5577c4" stroke-width="0.8"/>
<rect x="284.8" y="510.1" width="7.4" height="7.4" fill="#a84c3b"/>
<rect x="285.2" y="525.0" width="7.4" height="7.6" fill="none" stroke="#80bb6c" stroke-width="0.9"/>
<path d="M284.6 539.2L294.2 539.2L289.4 548.9Z" fill="#6a3a6c"/>
<text x="300.8" y="502.7" font-size="8.2" textLength="12.1" lengthAdjust="spacingAndGlyphs" fill="#111">WT</text>
<text x="300.8" y="516.5" font-size="8.2" textLength="23.6" lengthAdjust="spacingAndGlyphs" fill="#111">CD11c</text>
<text x="324.6" y="512.8" font-size="5.3" textLength="18.8" lengthAdjust="spacingAndGlyphs" fill="#111" style="stroke-width:0.05px">ΔMHCII</text>
<text x="300.8" y="531.8" font-size="8.2" textLength="14" lengthAdjust="spacingAndGlyphs" fill="#111">Rag</text>
<text x="315.0" y="528.0" font-size="5.3" textLength="7.4" lengthAdjust="spacingAndGlyphs" fill="#111" style="stroke-width:0.05px">KO</text>
<text x="300.8" y="545.9" font-size="8.2" textLength="14" lengthAdjust="spacingAndGlyphs" fill="#111">Rag</text>
<text x="315.0" y="542.1" font-size="5.3" textLength="7.4" lengthAdjust="spacingAndGlyphs" fill="#111" style="stroke-width:0.05px">KO</text>
<text x="323.8" y="545.9" font-size="8.2" textLength="23.6" lengthAdjust="spacingAndGlyphs" fill="#111">CD11c</text>
<text x="347.6" y="542.2" font-size="5.3" textLength="18.4" lengthAdjust="spacingAndGlyphs" fill="#111" style="stroke-width:0.05px">ΔMHCII</text>
<rect x="0" y="0" width="1.3" height="633" fill="#000"/>
<rect x="519" y="0" width="1" height="633" fill="#000"/>
<rect x="0" y="632" width="520" height="1" fill="#000"/>
<rect x="0" y="0" width="520" height="2" fill="#5c5c5c"/>
</svg>
</body></html>
